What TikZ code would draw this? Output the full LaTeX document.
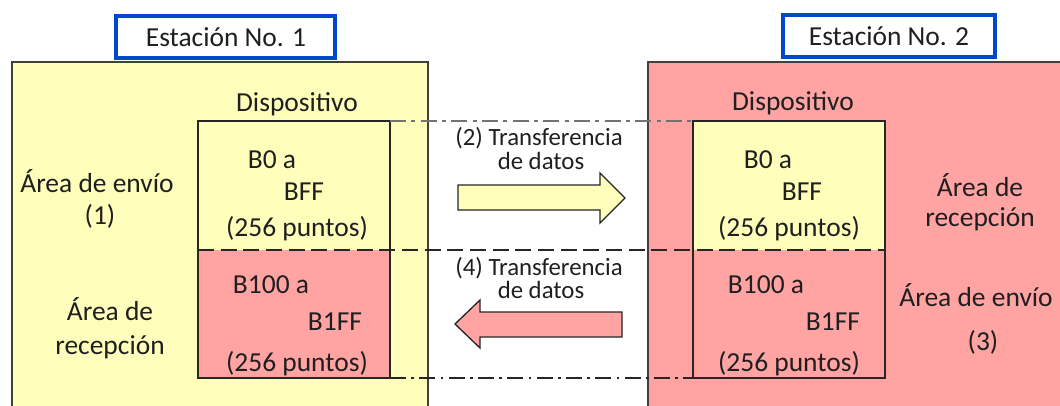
\documentclass[tikz,border=0pt]{standalone}
\usepackage{fontspec}
\setmainfont{Carlito}
\begin{document}
\begin{tikzpicture}[x=0.75pt,y=-0.75pt,
  txt/.style={font=\fontsize{20.6}{24}\selectfont, text=black!88, inner sep=0pt, anchor=base},
  small/.style={txt, font=\fontsize{18.6}{22}\selectfont},
  label/.style={draw=blue!65!cyan!80!black, line width=2.4pt, fill=white},
  station/.style={draw=black!75, line width=1.2pt},
  device/.style={draw=black!85, line width=1.1pt},
  arrowshape/.style={draw=black!85, line width=1pt}]
\definecolor{pale}{HTML}{FFFFBB}
\definecolor{rose}{HTML}{FFA3A3}
\useasboundingbox (0,0) rectangle (1060,405);
\clip (0,0) rectangle (1060,405);

% stations
\draw[station, fill=pale] (12,62) rectangle (428,420);
\draw[station, fill=rose] (648,62) rectangle (1070,420);

% station titles
\draw[label] (116,16) rectangle (335,58);
\node[txt] (t1) at (226,46) {Estación No. 1};
\draw[label] (783,15) rectangle (995,57);
\node[txt] (t2) at (889,45) {Estación No. 2};

% device areas
\coordinate (l1) at (198,121); \coordinate (l2) at (390,250); \coordinate (l3) at (198,378);
\coordinate (r1) at (693,121); \coordinate (r2) at (885,250); \coordinate (r3) at (693,378);
\fill[pale] (l1) rectangle (390,250);
\fill[rose] (198,250) rectangle (390,378);
\fill[pale] (r1) rectangle (885,250);
\fill[rose] (693,250) rectangle (885,378);
\draw[device] (198,250) -- (l1) -- (390,121) -- (390,378) -- (l3) -- cycle;
\draw[device] (693,250) -- (r1) -- (885,121) -- (885,378) -- (r3) -- cycle;

% boundary lines between the two devices
\draw[black!55, line width=1.5pt, dash pattern=on 12pt off 4pt on 3pt off 4pt] (390,121) -- (r1);
\draw[black!85, line width=1.3pt, dash pattern=on 12pt off 5pt] (198,250) -- (r2);
\draw[black!85, line width=1pt, dash pattern=on 12pt off 4pt on 2pt off 4pt] (390,378) -- (r3);

\node[txt] (d1) at (297,111) {Dispositivo};
\node[txt] (d2) at (793,110) {Dispositivo};

% left station texts
\node[txt] (s1) at (97,192) {Área de envío};
\node[txt] (s1n) at (100,224) {(1)};
\node[txt] (s1r) at (110,320) {Área de};
\node[txt] (s1r2) at (110,354) {recepción};

\node[txt] (a1) at (272,168) {B0 a};
\node[txt] (a2) at (304,200) {BFF};
\node[txt] (a3) at (297,236) {(256 puntos)};
\node[txt] (b1) at (271,293) {B100 a};
\node[txt] (b2) at (335,330) {B1FF};
\node[txt] (b3) at (297,371) {(256 puntos)};

% right station texts
\node[txt] (c1) at (768,168) {B0 a};
\node[txt] (c2) at (802,200) {BFF};
\node[txt] (c3) at (789,236) {(256 puntos)};
\node[txt] (e1) at (766,293) {B100 a};
\node[txt] (e2) at (833,330) {B1FF};
\node[txt] (e3) at (789,371) {(256 puntos)};

\node[txt] (s2r) at (980,196) {Área de};
\node[txt] (s2r2) at (980,226) {recepción};
\node[txt] (s2) at (976,306) {Área de envío};
\node[txt] (s2n) at (983,350) {(3)};

% transfers
\node[small] (x1) at (539,145) {(2) Transferencia};
\node[small] (x2) at (541,169) {de datos};
\node[small] (y1) at (539,275) {(4) Transferencia};
\node[small] (y2) at (541,298) {de datos};

\draw[arrowshape, fill=pale] (458,185) -- (600,185) -- (600,173) -- (625,198) -- (600,223) -- (600,210) -- (458,210) -- cycle;
\draw[arrowshape, fill=rose] (622,312) -- (480,312) -- (480,300) -- (455,324) -- (480,348) -- (480,337) -- (622,337) -- cycle;
\end{tikzpicture}
\end{document}
